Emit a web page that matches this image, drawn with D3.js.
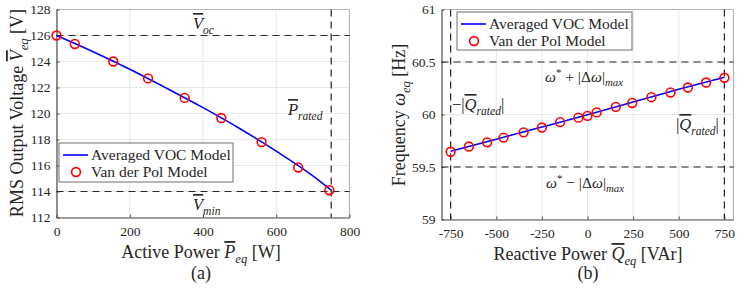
<!DOCTYPE html>
<html>
<head>
<meta charset="utf-8">
<script src="https://cdn.jsdelivr.net/npm/d3@7"></script>
<style>
body { margin: 0; background: #fff; }
.chart { width: 747px; height: 292px; }
</style>
</head>
<body>
<div class="chart"></div>
<script>
// ---- data ----
// (a) voltage vs active power
const pTicks = [0, 200, 400, 600, 800];
const vTicks = [112, 114, 116, 118, 120, 122, 124, 126, 128];
const voc_P = [0, 100, 200, 300, 400, 500, 600, 700, 750];
const voc_V = [126.0, 124.75, 123.4, 121.95, 120.45, 118.85, 117.1, 115.2, 114.1];
const vdp_P = [0, 50, 155, 250, 350, 450, 560, 660, 745];
const vdp_V = [126.0, 125.35, 124.0, 122.7, 121.2, 119.65, 117.8, 115.85, 114.1];
const vOc = 126, vMin = 114, pRated = 750;

// (b) frequency vs reactive power
const qTicks = [-750, -500, -250, 0, 250, 500, 750];
const fTicks = [59, 59.5, 60, 60.5, 61];
const voc_Q = [-750, -500, -250, 0, 250, 500, 750];
const voc_F = [59.65, 59.765, 59.88, 59.997, 60.12, 60.24, 60.355];
const vdp_Q = [-750, -650, -550, -460, -350, -250, -150, -50, 0, 50, 155, 245, 350, 455, 550, 650, 750];
const vdp_F = [59.645, 59.695, 59.735, 59.78, 59.83, 59.876, 59.927, 59.97, 59.987, 60.02, 60.073, 60.11, 60.165, 60.21, 60.257, 60.305, 60.35];
const fMax = 60.5, fMin = 59.5, qRated = 750;

const FONT = '"Liberation Serif", serif';
const INK = '#262626';
const width = 747, height = 292;
let svg = d3.select('.chart').append('svg')
	.attr('width', width)
	.attr('height', height)
	.style('font-family', FONT);

function label(g, x, y, str, size, anchor) {
	return g.append('text').attr('x', x).attr('y', y)
		.style('font-family', FONT).style('font-size', size + 'px')
		.style('fill', INK).attr('text-anchor', anchor || 'start')
		.text(str);
}

// rich text: segments {t, it, sub, sup, over}
function richText(g, x, y, segs, size, anchor, rotate) {
	let t = label(g, x, y, null, size, anchor);
	if (rotate) t.attr('transform', `rotate(${rotate},${x},${y})`);
	let shift = 0;
	segs.forEach(s => {
		let sp = t.append('tspan').text(s.t);
		let want = 0;
		if (s.sub) want = size * 0.28;
		if (s.sup) want = -size * 0.4;
		if (want !== shift) { sp.attr('dy', want - shift); shift = want; }
		if (s.sub || s.sup) sp.style('font-size', (size * 0.7) + 'px');
		if (s.it) sp.style('font-style', 'italic');
		if (s.over) sp.style('text-decoration', 'overline');
	});
	return t;
}

function panel(opt) {
	const g = svg.append('g');
	const x = d3.scaleLinear().domain(opt.xDom).range([opt.left, opt.right]);
	const y = d3.scaleLinear().domain(opt.yDom).range([opt.bottom, opt.top]);

	// grid
	opt.xTicks.forEach(v => {
		g.append('line').attr('x1', x(v)).attr('x2', x(v)).attr('y1', opt.top).attr('y2', opt.bottom)
			.style('stroke', '#e8e8e8').style('stroke-width', 1);
	});
	opt.yTicks.forEach(v => {
		g.append('line').attr('x1', opt.left).attr('x2', opt.right).attr('y1', y(v)).attr('y2', y(v))
			.style('stroke', '#e8e8e8').style('stroke-width', 1);
	});

	// box
	g.append('line').attr('x1', opt.left).attr('x2', opt.right).attr('y1', opt.top).attr('y2', opt.top)
		.style('stroke', '#b3b3b3').style('stroke-width', 1.2);
	g.append('line').attr('x1', opt.right).attr('x2', opt.right).attr('y1', opt.top).attr('y2', opt.bottom)
		.style('stroke', '#b3b3b3').style('stroke-width', 1.2);

	// axes
	const xAxis = d3.axisBottom(x).tickValues(opt.xTicks).tickSizeInner(-3).tickSizeOuter(0)
		.tickPadding(9).tickFormat(opt.xFmt);
	const yAxis = d3.axisLeft(y).tickValues(opt.yTicks).tickSizeInner(-3).tickSizeOuter(0)
		.tickPadding(6).tickFormat(opt.yFmt);
	const ax = g.append('g').attr('transform', `translate(0,${opt.bottom})`).call(xAxis);
	const ay = g.append('g').attr('transform', `translate(${opt.left},0)`).call(yAxis);
	[ax, ay].forEach(a => {
		a.attr('font-family', null).attr('font-size', null);
		a.select('.domain').style('stroke', '#4d4d4d').style('stroke-width', 1.2);
		a.selectAll('.tick line').style('stroke', '#4d4d4d');
		a.selectAll('.tick text').style('font-size', '13.5px').style('font-family', FONT).style('fill', INK);
	});

	// dashed reference lines
	opt.hDash.forEach(v => {
		g.append('line').attr('x1', opt.left).attr('x2', opt.right).attr('y1', y(v)).attr('y2', y(v))
			.style('stroke', INK).style('stroke-width', 1.2).style('stroke-dasharray', '7,5');
	});
	opt.vDash.forEach(v => {
		g.append('line').attr('x1', x(v)).attr('x2', x(v)).attr('y1', opt.top).attr('y2', opt.bottom)
			.style('stroke', INK).style('stroke-width', 1.2).style('stroke-dasharray', '7,5');
	});

	// averaged model line
	const line = d3.line().x(d => x(d[0])).y(d => y(d[1])).curve(d3.curveMonotoneX);
	g.append('path')
		.datum(d3.zip(opt.lineX, opt.lineY))
		.attr('d', line)
		.style('fill', 'none').style('stroke', '#0000ff').style('stroke-width', 1.6);

	// van der pol markers
	g.selectAll('.vdp').data(d3.zip(opt.ptX, opt.ptY)).enter()
		.append('circle')
		.attr('cx', d => x(d[0])).attr('cy', d => y(d[1])).attr('r', 4.4)
		.style('fill', 'none').style('stroke', '#ff0000').style('stroke-width', 1.6);

	// legend
	const L = opt.legend;
	g.append('rect').attr('x', L.x).attr('y', L.y).attr('width', L.w).attr('height', L.h)
		.style('fill', '#fff').style('stroke', '#6e6e6e').style('stroke-width', 1);
	g.append('line').attr('x1', L.x + 4).attr('x2', L.x + 29).attr('y1', L.y + 12).attr('y2', L.y + 12)
		.style('stroke', '#0000ff').style('stroke-width', 1.6);
	g.append('circle').attr('cx', L.x + 17).attr('cy', L.y + 29).attr('r', 4.4)
		.style('fill', 'none').style('stroke', '#ff0000').style('stroke-width', 1.6);
	label(g, L.x + 32, L.y + 17, 'Averaged VOC Model', 15.5);
	label(g, L.x + 32, L.y + 34, 'Van der Pol Model', 15.5);

	return g;
}

const ga = panel({
	left: 56.5, right: 349.5, top: 9.5, bottom: 217.5,
	xDom: [0, 800], yDom: [112, 128],
	xTicks: pTicks, yTicks: vTicks,
	xFmt: d => String(d), yFmt: d => String(d),
	hDash: [vOc, vMin], vDash: [pRated],
	lineX: voc_P, lineY: voc_V, ptX: vdp_P, ptY: vdp_V,
	legend: { x: 59, y: 143, w: 174, h: 39 }
});
richText(ga, 193, 29, [{ t: 'V', it: true, over: true }, { t: 'oc', it: true, sub: true }], 16.5);
richText(ga, 288, 115, [{ t: 'P', it: true, over: true }, { t: 'rated', it: true, sub: true }], 16.5);
richText(ga, 193, 210, [{ t: 'V', it: true, over: true }, { t: 'min', it: true, sub: true }], 16.5);
richText(ga, 201, 258, [{ t: 'Active Power ' }, { t: 'P', it: true, over: true }, { t: 'eq', it: true, sub: true }, { t: ' [W]' }], 18, 'middle');
richText(ga, 201, 279, [{ t: '(a)' }], 18, 'middle');
richText(ga, 23, 113, [{ t: 'RMS Output Voltage ' }, { t: 'V', it: true, over: true }, { t: 'eq', it: true, sub: true }, { t: ' [V]' }], 18, 'middle', -90);

const gb = panel({
	left: 441.5, right: 733.5, top: 9.5, bottom: 219.5,
	xDom: [-800, 800], yDom: [59, 61],
	xTicks: qTicks, yTicks: fTicks,
	xFmt: d => String(d), yFmt: d => String(d),
	hDash: [fMax, fMin], vDash: [-qRated, qRated],
	lineX: voc_Q, lineY: voc_F, ptX: vdp_Q, ptY: vdp_F,
	legend: { x: 457, y: 12, w: 175, h: 38 }
});
richText(gb, 545, 82, [{ t: 'ω', it: true }, { t: '*', sup: true }, { t: ' + |Δ' }, { t: 'ω', it: true }, { t: '|' }, { t: 'max', it: true, sub: true }], 15.5);
richText(gb, 546, 188, [{ t: 'ω', it: true }, { t: '*', sup: true }, { t: ' − |Δ' }, { t: 'ω', it: true }, { t: '|' }, { t: 'max', it: true, sub: true }], 15.5);
richText(gb, 452, 110, [{ t: '−|' }, { t: 'Q', it: true, over: true }, { t: 'rated', it: true, sub: true }, { t: '|' }], 16.5);
richText(gb, 676, 130, [{ t: '|' }, { t: 'Q', it: true, over: true }, { t: 'rated', it: true, sub: true }, { t: '|' }], 16.5);
richText(gb, 588, 260, [{ t: 'Reactive Power ' }, { t: 'Q', it: true, over: true }, { t: 'eq', it: true, sub: true }, { t: ' [VAr]' }], 18, 'middle');
richText(gb, 588, 279, [{ t: '(b)' }], 18, 'middle');
richText(gb, 405, 115, [{ t: 'Frequency ' }, { t: 'ω', it: true }, { t: 'eq', it: true, sub: true }, { t: ' [Hz]' }], 18, 'middle', -90);
</script>
</body>
</html>
